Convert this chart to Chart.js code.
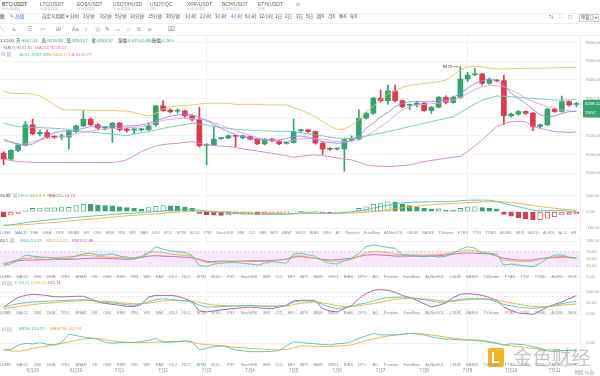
<!DOCTYPE html>
<html><head><meta charset="utf-8">
<script src="https://cdn.jsdelivr.net/npm/chart.js@4.4.1/dist/chart.umd.min.js"></script>
<style>
html,body{margin:0;padding:0;background:#fff;}
body{width:600px;height:376px;overflow:hidden;position:relative;font-family:"Liberation Sans","Noto Sans CJK SC",sans-serif;}
.t{position:absolute;white-space:nowrap;line-height:1;}
.tab{font-size:5px;color:#666;top:1.5px;}
.sub{font-size:3.6px;color:#bdbdbd;top:7.5px;}
.r2{font-size:4.5px;color:#555;top:15px;}
.ic{font-size:5.5px;color:#888;top:27px;}
.info{font-size:4.4px;color:#444;}
.g{color:#2ea66d;}
canvas{position:absolute;left:0;}
.hl{position:absolute;left:0;width:600px;height:0;border-top:1px solid #f0f0f0;}
.row{position:absolute;left:-6px;width:583px;display:flex;justify-content:space-between;font-size:4px;color:#8a8a8a;line-height:1;}
.row .on{color:#3d7de3;}
.ph{font-size:4.3px;}
</style></head><body>
<canvas id="cMain" width="600" height="154" style="top:36px"></canvas>
<canvas id="cMacd" width="600" height="41" style="top:190px"></canvas>
<canvas id="cRsi" width="600" height="43" style="top:236px"></canvas>
<canvas id="cKdj" width="600" height="35" style="top:281px"></canvas>
<canvas id="cMtm" width="600" height="56" style="top:320px"></canvas>

<!-- top tabs -->
<div class="t tab" style="left:2px;color:#333">BTC/USDT</div><div class="t sub" style="left:2px">火币全球站</div>
<div class="t tab" style="left:40px">LTC/USDT</div><div class="t sub" style="left:40px">火币全球站</div>
<div class="t tab" style="left:77px">EOS/USDT</div><div class="t sub" style="left:77px">火币全球站</div>
<div class="t tab" style="left:113px">USDT/HUSD</div><div class="t sub" style="left:113px">火币全球站</div>
<div class="t tab" style="left:150px">USDT/QC</div><div class="t sub" style="left:150px">ZB</div>
<div class="t tab" style="left:187px">XRP/USDT</div><div class="t sub" style="left:187px">火币全球站</div>
<div class="t tab" style="left:222px">BCH/USDT</div><div class="t sub" style="left:222px">火币全球站</div>
<div class="t tab" style="left:258px">ETH/USDT</div><div class="t sub" style="left:258px">币安</div>
<div class="t tab" style="left:296px;color:#aaa">⊞</div>
<div class="hl" style="top:12.5px"></div>
<!-- interval row -->
<div class="t r2" style="left:0px;color:#333">图</div>
<div class="t r2" style="left:10px;color:#3d7de3">✎ 高级</div>
<div class="t r2" style="left:42px">自定义周期 ▾</div>
<div class="t r2" style="left:70px">分时</div>
<div class="t r2" style="left:83px">1分钟</div>
<div class="t r2" style="left:100px">3分钟</div>
<div class="t r2" style="left:115px">5分钟</div>
<div class="t r2" style="left:130px">10分钟</div>
<div class="t r2" style="left:148px">15分钟</div>
<div class="t r2" style="left:166px">30分钟</div>
<div class="t r2" style="left:185px">1小时</div>
<div class="t r2" style="left:200px">2小时</div>
<div class="t r2" style="left:215px">3小时</div>
<div class="t r2" style="left:231px;color:#3d7de3">4小时</div>
<div class="t r2" style="left:245px">6小时</div>
<div class="t r2" style="left:259px">12小时</div>
<div class="t r2" style="left:275px">1日</div>
<div class="t r2" style="left:285px">2日</div>
<div class="t r2" style="left:296px">3日</div>
<div class="t r2" style="left:306px">5日</div>
<div class="t r2" style="left:317px">周K</div>
<div class="t r2" style="left:328px">月K</div>
<div class="t r2" style="left:339px">季K</div>
<div class="t r2" style="left:350px">年K</div>
<div class="t r2" style="left:549px;color:#777">⇅</div>
<div class="t r2" style="left:559px;color:#777">⛶</div>
<div class="t r2" style="left:568px;color:#777">◻</div>
<div class="t r2" style="left:579px;top:13.5px;border:0.5px solid #ccc;padding:1px 1px;font-size:4.2px">单窗口 ▾</div>
<div class="hl" style="top:22.5px"></div>
<!-- drawing tools -->
<div class="t ic" style="left:0px">⟍</div>
<div class="t ic" style="left:12px">⊾</div>
<div class="t ic" style="left:27px">☰</div>
<div class="t ic" style="left:40px">〰</div>
<div class="t ic" style="left:56px">⊞</div>
<div class="t ic" style="left:72px">Aa</div>
<div class="t ic" style="left:84px">♁</div>
<div class="t ic" style="left:95px">⊘</div>
<div class="t ic" style="left:105px">✎</div>
<div class="t ic" style="left:116px">⌓</div>
<div class="t ic" style="left:127px">⌂</div>
<div class="t ic" style="left:137px">⧉</div>
<div class="t ic" style="left:148px">⧈</div>
<div class="t ic" style="left:168px">⌧</div>
<div class="hl" style="top:34.5px"></div>
<!-- info rows -->
<div class="t info" style="left:0px;top:38.5px">1</div>
<div class="t info" style="left:3px;top:38.5px">12:00</div>
<div class="t info" style="left:16px;top:38.5px">开:<span class="g">9267.43</span></div>
<div class="t info" style="left:41.5px;top:38.5px">高:<span class="g">9278.96</span></div>
<div class="t info" style="left:66.5px;top:38.5px">低:<span class="g">9254.67</span></div>
<div class="t info" style="left:91.5px;top:38.5px">收:<span class="g">9268.32</span></div>
<div class="t info" style="left:118px;top:38.5px">涨幅:<span class="g">0.01%(0.88)</span></div>
<div class="t info" style="left:152px;top:38.5px">振幅:<span class="g">0.26%</span></div>
<div class="t info" style="left:3.5px;top:45.6px;color:#7d7fe6">MA(7):9231.61</div>
<div class="t info" style="left:35px;top:45.6px;color:#e563b9">MA(10):9229.63</div>
<div class="t info" style="left:1px;top:52.3px;color:#999;font-size:5px">⊡ ⊠</div>
<div class="t info" style="left:19.5px;top:52.7px;color:#3fb79a">BOLL:9293.47</div>
<div class="t info" style="left:45px;top:52.7px;color:#eda43a">UB:9466.17</div>
<div class="t info" style="left:69px;top:52.7px;color:#e06bc2">LB:9120.77</div>
<!-- panel headers -->
<div class="t ph" style="left:0px;top:193.5px;color:#444">26,9)</div>
<div class="t ph" style="left:7px;top:193px;color:#999;font-size:5px">⊡ ⊠</div>
<div class="t ph" style="left:18px;top:193.5px;color:#41c0ad">DIF:2.02</div>
<div class="t ph" style="left:33px;top:193.5px;color:#eea531">DEA:9.39</div>
<div class="t ph" style="left:49px;top:193.5px;color:#e0486c">MACD:-14.74</div>
<div class="t ph" style="left:0px;top:238.5px;color:#444">4)</div>
<div class="t ph" style="left:4px;top:238px;color:#999;font-size:5px">⊡ ⊠</div>
<div class="t ph" style="left:20px;top:238.5px;color:#41c0ad">RSI1:53.37</div>
<div class="t ph" style="left:46px;top:238.5px;color:#eea531">RSI2:51.21</div>
<div class="t ph" style="left:72px;top:238.5px;color:#c256c6">RSI3:51.88</div>
<div class="t ph" style="left:1.5px;top:280.5px;color:#999;font-size:5px">⊡ ⊠</div>
<div class="t ph" style="left:15px;top:281px;color:#41c0ad">K:58.11</div>
<div class="t ph" style="left:31px;top:281px;color:#eea531">D:46.61</div>
<div class="t ph" style="left:47px;top:281px;color:#b04fa6">J:85.11</div>
<div class="t ph" style="left:1.5px;top:326.5px;color:#999;font-size:5px">⊡ ⊠</div>
<div class="t ph" style="left:19px;top:327px;color:#41c0ad">MTM:-133.57</div>
<div class="t ph" style="left:50px;top:327px;color:#eea531">MAMTM:-150.81</div>
<!-- bottom right -->
<div class="t" style="left:575px;top:371px;font-size:4.3px;color:#777">时区 % 自</div>
<!-- watermark -->
<div style="position:absolute;left:488px;top:348px;width:16px;height:19px;background:#f4b429;border-radius:2px;"></div>
<div style="position:absolute;left:492px;top:352px;width:5px;height:9px;border:2px solid #fff;border-right:none;border-top:none;"></div>
<div class="t" style="left:513px;top:347px;font-size:19px;color:rgba(150,150,150,0.55);font-family:'Noto Sans CJK SC',sans-serif;letter-spacing:0.5px">金色财经</div>

<script>
// ---------- data ----------
const days = ['6月28','6月29','6月30','7月1','7月2','7月3','7月4','7月5','7月6','7月7','7月8','7月9','7月10','7月11'];
const hours = ['00:00','04:00','08:00','12:00','16:00','20:00'];
const categories = [];
for (let k = 2; k < 82; k++) categories.push(days[Math.floor(k / 6)] + ' ' + hours[k % 6]);

const open = [9007,8976,9022,9052,9159,9111,9118,9094,9094,9093,
 9123,9153,9189,9159,9141,9141,9168,9136,9131,9132,
 9132,9159,9260,9238,9232,9233,9207,9189,9048,9052,
 9085,9088,9100,9089,9096,9082,9057,9082,9073,9060,
 9064,9127,9132,9123,9061,9030,9029,9029,9075,9082,
 9194,9221,9301,9288,9340,9288,9263,9265,9274,9235,
 9253,9306,9278,9306,9404,9427,9431,9381,9396,9395,
 9207,9216,9230,9221,9150,9159,9242,9230,9283,9267.43];
const close = [8976,9022,9052,9159,9111,9118,9093,9092,9097,9123,
 9153,9189,9159,9141,9143,9168,9132,9129,9133,9134,
 9153,9260,9235,9228,9234,9207,9189,9047,9050,9082,
 9087,9100,9097,9100,9082,9057,9082,9073,9057,9062,
 9123,9129,9123,9061,9029,9028,9031,9079,9082,9194,
 9221,9301,9288,9340,9288,9256,9265,9274,9235,9253,
 9306,9278,9306,9404,9425,9430,9381,9399,9394,9207,
 9216,9230,9221,9150,9159,9242,9230,9283,9265,9268.32];
const high = [9015,9026,9058,9176,9189,9130,9132,9100,9110,9128,
 9158,9235,9195,9165,9150,9172,9172,9140,9138,9140,
 9168,9262,9288,9245,9245,9238,9212,9253,9058,9150,
 9092,9105,9104,9104,9100,9086,9086,9086,9076,9068,
 9189,9134,9136,9126,9066,9036,9036,9085,9100,9239,
 9226,9306,9345,9372,9372,9292,9270,9285,9278,9258,
 9312,9314,9312,9470,9440,9461,9434,9410,9400,9425,
 9222,9236,9234,9225,9163,9248,9248,9313,9287,9278.96];
const low = [8945,8970,9015,9048,9105,9100,9088,9085,9080,9029,
 9118,9148,9155,9135,9130,9064,9125,9120,9110,9125,
 9128,9150,9230,9222,9222,9200,9180,9040,8945,9048,
 9080,9084,9040,9085,9078,9052,9052,9068,9052,9055,
 9060,9120,9118,9055,9000,9022,9024,8910,9070,9078,
 9190,9215,9280,9268,9282,9250,9240,9255,9230,9220,
 9250,9270,9274,9300,9390,9420,9372,9376,9390,9159,
 9200,9210,9215,9128,9144,9155,9225,9226,9258,9254.67];

const ma7 = [9081,9069,9056,9046,9056,9078,9099,9117,9124,9128,
 9131,9140,9149,9149,9149,9149,9151,9153,9154,9158,
 9167,9181,9193,9206,9211,9218,9211,9199,9181,9160,
 9140,9122,9105,9096,9088,9083,9080,9078,9078,9085,
 9096,9099,9092,9078,9069,9064,9060,9060,9078,9099,
 9140,9167,9202,9224,9256,9274,9282,9282,9282,9282,
 9288,9291,9306,9327,9354,9380,9395,9405,9395,9371,
 9327,9300,9274,9242,9211,9202,9206,9220,9229,9231.61];
const ma10 = [9073,9064,9053,9056,9067,9078,9085,9090,9096,9101,
 9110,9119,9126,9131,9135,9138,9140,9144,9145,9149,
 9158,9170,9183,9188,9192,9194,9192,9188,9185,9170,
 9156,9140,9128,9115,9103,9090,9078,9074,9071,9069,
 9078,9085,9087,9087,9081,9074,9069,9069,9074,9078,
 9099,9122,9149,9176,9211,9238,9256,9265,9268,9272,
 9274,9284,9291,9306,9327,9348,9363,9371,9368,9363,
 9345,9327,9300,9283,9270,9256,9245,9238,9233,9229.63];
const bollUp = [9341,9327,9327,9327,9323,9313,9291,9265,9242,9238,
 9238,9238,9236,9236,9236,9236,9233,9233,9224,9215,
 9206,9220,9242,9256,9259,9263,9265,9270,9274,9274,
 9274,9274,9268,9268,9268,9268,9265,9265,9265,9265,
 9250,9238,9220,9202,9176,9153,9135,9135,9158,9185,
 9229,9256,9295,9323,9341,9359,9370,9375,9380,9384,
 9389,9398,9425,9452,9469,9473,9469,9462,9458,9458,
 9458,9460,9460,9462,9462,9463,9464,9465,9466,9466.17];
const bollMid = [9167,9158,9149,9147,9145,9144,9142,9140,9138,9133,
 9128,9122,9119,9116,9113,9109,9105,9101,9110,9116,
 9122,9131,9140,9147,9153,9160,9167,9162,9158,9151,
 9144,9140,9135,9132,9130,9128,9126,9125,9124,9123,
 9122,9116,9111,9105,9099,9093,9087,9086,9085,9092,
 9099,9107,9114,9122,9131,9140,9149,9158,9167,9176,
 9185,9193,9202,9225,9247,9270,9291,9302,9313,9311,
 9309,9306,9303,9300,9297,9294,9291,9291,9292,9293.47];
const bollLow = [8975,8968,8962,8960,8958,8957,8957,8957,8957,8957,
 8957,8957,8957,8957,8957,8957,8962,8971,8993,9016,
 9031,9046,9053,9057,9060,9065,9069,9060,9051,9048,
 9045,9042,9036,9030,9024,9018,9012,9007,9000,8993,
 8985,8990,8995,8998,8993,8989,8982,8976,8971,8958,
 8944,8940,8937,8935,8938,8941,8944,8953,8962,8968,
 8974,8980,8985,8989,9016,9047,9078,9113,9149,9165,
 9176,9178,9176,9149,9140,9131,9122,9120,9118,9120.77];

const dif = [-85,-80,-74,-67,-61,-56,-52,-47,-43,-39,
 -35,-31,-27,-24,-21,-17,-14,-11,-9,-6,
 -3,0,4,8,11,13,14,8,2,-2,
 -6,-9,-11,-13,-14,-15,-16,-16,-16,-16,
 -12,-6,-6,-8,-10,-11,-10,-6,0,5,
 12,22,32,40,48,54,57,59,60,61,
 61,62,63,67,70,71,71,70,63,51,
 40,30,20,8,6,7,8,7,4,2.02];
const dea = [-82,-82,-81,-79,-76,-72,-69,-65,-61,-57,
 -53,-49,-45,-41,-37,-33,-29,-25,-22,-19,
 -16,-13,-10,-6,-3,0,3,4,4,3,
 1,-1,-3,-5,-7,-9,-10,-11,-12,-13,
 -13,-12,-11,-10,-10,-10,-10,-9,-8,-6,
 -3,1,6,12,18,24,29,34,38,42,
 45,48,51,53,56,58,60,61,62,60,
 56,51,45,38,32,26,21,16,12,9.39];
const macdHist = [-30,-20,-10,10,20,22,23,24,25,26,
 37,46,45,40,37,36,30,25,20,16,
 25,33,37,36,33,28,20,-10,-20,-21,
 -22,-16,-14,-13,-12,-16,-14,-12,-11,-8,
 3,2,3,3,-4,-4.5,-4,3,4,20,
 30,45,50,60,59,45,37,28,20,16,
 17,10,9,20,28,30,25,20,16,-16,
 -28,-37,-43,-50,-49,-40,-30,-20,-16,-14.74];

const rsi1 = [33,36,47,61,58,56,55,52,52,52,
 58,64,66,61,61,64,58,55,52,55,
 66,84,77,73,70,68,60,32,29,36,
 38,40,40,38,36,33,38,43,40,38,
 64,66,61,58,45,38,36,45,52,66,
 84,89,86,82,80,61,61,58,56,60,
 55,58,66,77,84,80,66,66,64,33,
 36,33,31,29,38,52,61,61,55,53.37];
const rsi2 = [36,42,49,52,53,53,54,54,55,57,
 58,60,59,57,56,55,54,53,53,58,
 69,70,68,64,62,60,57,47,40,41,
 42,43,43,43,43,43,43,44,47,50,
 58,59,55,52,47,44,44,45,49,57,
 68,70,70,68,64,61,61,61,61,61,
 62,64,68,72,75,73,69,66,58,47,
 45,44,43,44,50,53,56,57,53,51.21];
const rsi3 = [36,42,45,47,47,48,48,49,49,49,
 50,51,52,52,52,51,50,49,50,55,
 58,59,58,57,56,55,53,49,43,43,
 44,44,44,44,45,45,45,46,47,49,
 55,57,54,52,49,47,48,50,52,57,
 61,62,61,60,58,58,58,58,58,58,
 59,61,63,66,67,66,65,64,58,52,
 49,47,47,47,51,53,54,55,55,51.88];

const kLine = [33,41,48,53,56,58,59,61,62,64,
 65,67,64,56,53,52,48,44,41,48,
 56,67,71,68,64,61,56,41,33,33,
 35,36,38,39,41,39,36,36,38,41,
 56,61,61,59,45,33,26,30,36,45,
 52,61,70,76,77,79,76,71,67,61,
 55,55,61,68,71,71,71,67,56,45,
 39,33,30,27,30,36,42,48,55,58.11];
const dLine = [26,30,35,40,44,48,51,54,56,58,
 60,62,63,61,59,57,54,51,48,48,
 51,56,61,63,63,62,60,54,47,42,
 40,38,38,38,39,39,38,37,37,38,
 44,50,54,56,52,46,39,36,36,39,
 43,49,56,63,68,71,73,72,70,67,
 63,60,60,63,66,68,69,68,64,58,
 52,46,40,36,34,35,37,41,44,46.61];
const jLine = [33,56,76,86,91,89,85,80,79,80,
 82,82,70,56,50,45,41,36,35,45,
 79,86,86,86,82,71,56,15,11,15,
 20,24,27,30,33,30,27,26,33,41,
 61,64,64,61,26,15,11,26,41,71,
 94,109,112,109,100,86,76,64,48,33,
 41,52,76,91,94,91,86,76,64,33,
 18,6,3,0,15,33,45,56,71,85.11];

const mtm = [-133,-125,-40,0,-13,13,-20,-33,20,180,
 155,125,105,80,20,0,13,15,20,33,
 60,100,20,20,33,53,33,-133,-100,-67,
 -53,-80,-133,-150,-167,-167,-167,-160,-147,-50,
 30,20,0,-10,-25,-33,-10,0,33,100,
 147,200,167,167,167,180,200,185,167,130,
 100,85,80,67,67,67,60,33,0,-33,
 -10,-20,-33,-67,-100,-150,-167,-150,-145,-133.57];
const mamtm = [-120,-150,-160,-140,-100,-80,-55,-35,-5,25,
 60,85,100,95,70,45,33,20,13,13,
 15,25,33,35,35,33,20,-13,-25,-38,
 -50,-65,-80,-90,-100,-110,-120,-125,-130,-125,
 -90,-50,-55,-60,-65,-67,-55,-45,-33,10,
 53,90,120,145,167,180,195,200,185,167,
 145,125,105,85,70,55,40,20,0,-33,
 -50,-65,-85,-100,-115,-130,-135,-140,-145,-150.81];

const mainTicks = [8900,9000,9100,9200,9300,9400,9500,9600];
const macdTicks = [-100,0,100];
const rsiTicks = [0,30,50,70,100];
const kdjTicks = [0,50,100];
const mtmTicks = [0];
const rsiBandLevels = [30,70];
const kdjDashLevels = [20,80];
const countdown = '19:57';

const indicatorNames = ['VOLUME','MACD','DMI','DMA','TRIX','BRAR','VR','OBV','EMV','RSI','WR','SAR','KDJ','ROC','MTM','BOLL','PSY','StochRSI','SMI','CCI','MFI','ATR','BBW','SKDJ','BIAS','DPO','AO','Position','Fundflow','AI-NetVOL','LSUR','BASIS','TVolume','FTBS','TTSI','TTMU','AI-BSI','MLR'];
const macdExtraNames = ['AI-PD','AI-FDI','AI-LI','FR'];

// ---------- styles ----------
const FONT = '"Liberation Sans", "Noto Sans CJK SC", sans-serif';
const UP = '#35a46f', DOWN = '#de3a4f';
const TEAL = '#4cc5b1', ORANGE = '#f0ae3a';

function buildRow(top, names, active) {
  const d = document.createElement('div');
  d.className = 'row'; d.style.top = top + 'px';
  names.forEach(n => { const s = document.createElement('span'); s.textContent = n; if (n === active) s.className = 'on'; d.appendChild(s); });
  document.body.appendChild(d);
}
buildRow(231.3, indicatorNames.concat(macdExtraNames), 'MACD');
buildRow(274.7, indicatorNames, 'RSI');
buildRow(310.7, indicatorNames, 'KDJ');
buildRow(363, indicatorNames, 'MTM');

const isDay = i => categories[i] && categories[i].endsWith('00:00');

function xAxis(show) {
  return {
    type: 'category', offset: true,
    grid: { offset: false, drawTicks: false, lineWidth: 1, color: c => isDay(c.index) ? '#f0f0f0' : 'rgba(0,0,0,0)' },
    border: { display: false },
    ticks: { display: show, autoSkip: false, maxRotation: 0, minRotation: 0, padding: 7, color: '#8a8a8a',
      font: { size: 4.5, family: FONT, lineHeight: 1 },
      callback: (v, i) => isDay(i) ? categories[i].split(' ')[0] : null },
    afterFit: s => { s.height = show ? 14 : 0; s.paddingLeft = 0; s.paddingRight = 0; }
  };
}
function yAxis(min, max, ticks) {
  return {
    position: 'right', min, max,
    afterBuildTicks: s => { s.ticks = ticks.map(v => ({ value: v })); },
    afterFit: s => { s.width = 20; s.paddingTop = 0; s.paddingBottom = 0; },
    grid: { drawTicks: false, color: '#f3f3f3', lineWidth: 1 },
    border: { display: true, color: '#ececec' },
    ticks: { padding: 6, color: '#9a9a9a', font: { size: 4.3, family: FONT, lineHeight: 0.3 },
      callback: v => Number(v).toFixed(2) }
  };
}
function opts(showX, min, max, ticks) {
  return {
    responsive: false, animation: false, events: [],
    layout: { padding: 0 },
    plugins: { legend: { display: false }, tooltip: { enabled: false } },
    scales: { x: xAxis(showX), y: yAxis(min, max, ticks) }
  };
}
function line(data, color, w, order) {
  return { type: 'line', data, borderColor: color, borderWidth: w || 0.9, pointRadius: 0, tension: 0, fill: false, order: order || 0 };
}

// ---------- main candles ----------
const isUp = i => close[i] >= open[i];
const mainMarks = {
  id: 'mainMarks',
  afterDatasetsDraw(chart) {
    const { ctx, chartArea: a, scales: { x, y } } = chart;
    const last = close.length - 1;
    const yp = y.getPixelForValue(close[last]);
    ctx.save();
    ctx.strokeStyle = 'rgba(46,166,109,0.6)'; ctx.lineWidth = 0.6; ctx.setLineDash([2, 1.5]);
    ctx.beginPath(); ctx.moveTo(x.getPixelForValue(last) + 3, yp); ctx.lineTo(a.right + 3, yp); ctx.stroke();
    ctx.setLineDash([]);
    ctx.fillStyle = UP; ctx.fillRect(a.right + 3, yp - 4.5, 20, 17.5);
    ctx.fillStyle = '#fff'; ctx.font = '4.4px ' + FONT; ctx.textBaseline = 'middle'; ctx.textAlign = 'left';
    ctx.fillText(close[last].toFixed(2), a.right + 5, yp - 0.3);
    ctx.fillText(countdown, a.right + 5, yp + 8.6);
    let mi = 0; high.forEach((h, i) => { if (h > high[mi]) mi = i; });
    const mx = x.getPixelForValue(mi), my = y.getPixelForValue(high[mi]);
    ctx.strokeStyle = '#555'; ctx.lineWidth = 0.6;
    ctx.beginPath(); ctx.moveTo(mx - 1.5, my); ctx.lineTo(mx - 7, my); ctx.stroke();
    ctx.fillStyle = '#333'; ctx.textAlign = 'right'; ctx.fillText(String(Math.round(high[mi])), mx - 8, my);
    ctx.restore();
  }
};
new Chart(document.getElementById('cMain'), {
  type: 'bar',
  data: { labels: categories, datasets: [
    line(ma7, '#8b8ef0', 0.9, 0),
    line(ma10, '#f29ad3', 0.9, 0),
    line(bollMid, '#62cdb8', 0.9, 0),
    line(bollUp, '#f5bd5a', 0.9, 0),
    line(bollLow, '#e27bcd', 0.9, 0),
    { type: 'bar', data: open.map((o, i) => [o, close[i]]), grouped: false, barThickness: 5, minBarLength: 1,
      backgroundColor: c => isUp(c.dataIndex) ? UP : DOWN, borderWidth: 0, order: 1 },
    { type: 'bar', data: low.map((l, i) => [l, high[i]]), grouped: false, barThickness: 1,
      backgroundColor: c => isUp(c.dataIndex) ? UP : DOWN, borderWidth: 0, order: 2 }
  ]},
  options: opts(false, 8810, 9634, mainTicks),
  plugins: [mainMarks]
});

// ---------- MACD ----------
const hollow = i => { const v = macdHist[i], p = i > 0 ? macdHist[i - 1] : v; return v >= 0 ? v > p : v > p; };
const hColor = i => macdHist[i] >= 0 ? UP : DOWN;
new Chart(document.getElementById('cMacd'), {
  type: 'bar',
  data: { labels: categories, datasets: [
    line(dif, TEAL, 0.9, 0),
    line(dea, ORANGE, 0.9, 0),
    { type: 'bar', data: macdHist, barThickness: 4.6, borderWidth: 0.8, borderSkipped: false,
      borderColor: c => hColor(c.dataIndex),
      backgroundColor: c => hollow(c.dataIndex) ? '#ffffff' : hColor(c.dataIndex), order: 1 }
  ]},
  options: opts(false, -118, 132.7, macdTicks)
});

// ---------- RSI ----------
const rsiBand = {
  id: 'rsiBand',
  beforeDatasetsDraw(chart) {
    const { ctx, chartArea: a, scales: { y } } = chart;
    const yHi = y.getPixelForValue(rsiBandLevels[1]), yLo = y.getPixelForValue(rsiBandLevels[0]);
    ctx.save();
    ctx.fillStyle = '#f7e8fb'; ctx.fillRect(a.left, yHi, a.right - a.left, yLo - yHi);
    ctx.strokeStyle = '#d3a9e0'; ctx.lineWidth = 0.6; ctx.setLineDash([2, 2]);
    [yHi, yLo].forEach(yy => { ctx.beginPath(); ctx.moveTo(a.left, yy); ctx.lineTo(a.right, yy); ctx.stroke(); });
    ctx.restore();
  }
};
new Chart(document.getElementById('cRsi'), {
  type: 'line',
  data: { labels: categories, datasets: [ line(rsi1, TEAL), line(rsi2, ORANGE), line(rsi3, '#c35ec7') ] },
  options: opts(false, -5.6, 113.9, rsiTicks),
  plugins: [rsiBand]
});

// ---------- KDJ ----------
const kdjDash = {
  id: 'kdjDash',
  beforeDatasetsDraw(chart) {
    const { ctx, chartArea: a, scales: { y } } = chart;
    ctx.save();
    ctx.strokeStyle = '#d8d8d8'; ctx.lineWidth = 0.6; ctx.setLineDash([2, 2]);
    kdjDashLevels.forEach(v => { const yy = y.getPixelForValue(v); ctx.beginPath(); ctx.moveTo(a.left, yy); ctx.lineTo(a.right, yy); ctx.stroke(); });
    ctx.restore();
  }
};
new Chart(document.getElementById('cKdj'), {
  type: 'line',
  data: { labels: categories, datasets: [ line(kLine, TEAL), line(dLine, ORANGE), line(jLine, '#a9519f') ] },
  options: opts(false, -7.7, 151.4, kdjTicks),
  plugins: [kdjDash]
});

// ---------- MTM ----------
new Chart(document.getElementById('cMtm'), {
  type: 'line',
  data: { labels: categories, datasets: [ line(mtm, TEAL), line(mamtm, ORANGE) ] },
  options: opts(true, -374, 466, mtmTicks)
});
</script>
</body></html>
